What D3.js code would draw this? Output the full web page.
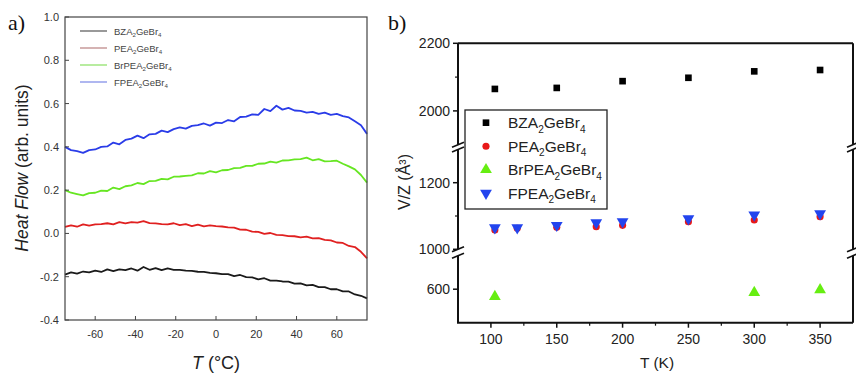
<!DOCTYPE html>
<html>
<head>
<meta charset="utf-8">
<script src="https://cdn.jsdelivr.net/npm/d3@7"></script>
<style>
	body { margin: 0; background: #fff; }
	svg { display: block; font-family: "Liberation Sans", Arial, sans-serif; }
</style>
</head>
<body>
<svg id="chart" width="856" height="374"></svg>
<script>
// Two panels: a) DSC heat flow curves, b) V/Z vs temperature with a broken y axis

// ---- data, panel a (every 3 degrees C) ----
const tempC = [-75, -72, -69, -66, -63, -60, -57, -54, -51, -48, -45, -42, -39, -36, -33, -30, -27, -24, -21, -18,
	-15, -12, -9, -6, -3, 0, 3, 6, 9, 12, 15, 18, 21, 24, 27, 30, 33, 36, 39, 42, 45, 48, 51, 54, 57, 60, 63, 66, 69, 72, 75];

const flowBZA = [-0.19, -0.18, -0.186, -0.176, -0.18, -0.172, -0.178, -0.166, -0.174, -0.166, -0.17, -0.162, -0.172, -0.155,
	-0.168, -0.16, -0.17, -0.162, -0.168, -0.168, -0.172, -0.173, -0.177, -0.178, -0.182, -0.184, -0.188, -0.188, -0.197,
	-0.192, -0.202, -0.203, -0.212, -0.207, -0.218, -0.218, -0.222, -0.223, -0.232, -0.231, -0.24, -0.238, -0.248, -0.248,
	-0.258, -0.258, -0.268, -0.268, -0.282, -0.288, -0.30];
const flowPEA = [0.03, 0.037, 0.031, 0.042, 0.036, 0.042, 0.043, 0.047, 0.042, 0.052, 0.046, 0.052, 0.05, 0.057, 0.048,
	0.046, 0.043, 0.042, 0.047, 0.038, 0.043, 0.034, 0.041, 0.033, 0.037, 0.034, 0.032, 0.028, 0.027, 0.018, 0.017, 0.008,
	0.007, -0.002, 0.002, -0.007, -0.008, -0.012, -0.013, -0.018, -0.015, -0.023, -0.022, -0.03, -0.032, -0.042, -0.044,
	-0.058, -0.063, -0.085, -0.115];
const flowBrPEA = [0.20, 0.188, 0.182, 0.176, 0.186, 0.188, 0.198, 0.196, 0.212, 0.205, 0.218, 0.222, 0.233, 0.228, 0.242,
	0.243, 0.252, 0.25, 0.262, 0.263, 0.266, 0.268, 0.278, 0.277, 0.288, 0.282, 0.292, 0.293, 0.302, 0.303, 0.312, 0.312,
	0.322, 0.323, 0.332, 0.327, 0.337, 0.338, 0.342, 0.343, 0.35, 0.338, 0.343, 0.333, 0.334, 0.336, 0.322, 0.31, 0.296,
	0.27, 0.235];
const flowFPEA = [0.40, 0.385, 0.38, 0.372, 0.385, 0.388, 0.40, 0.402, 0.42, 0.412, 0.432, 0.438, 0.452, 0.44, 0.458, 0.46,
	0.475, 0.468, 0.482, 0.49, 0.484, 0.497, 0.50, 0.508, 0.498, 0.512, 0.51, 0.524, 0.518, 0.538, 0.54, 0.55, 0.548, 0.575,
	0.565, 0.59, 0.572, 0.58, 0.568, 0.566, 0.558, 0.562, 0.552, 0.558, 0.548, 0.552, 0.542, 0.536, 0.518, 0.50, 0.46];

const namesA = ['BZA_2GeBr_4', 'PEA_2GeBr_4', 'BrPEA_2GeBr_4', 'FPEA_2GeBr_4'];
const xTicksA = [-60, -40, -20, 0, 20, 40, 60];
const yTicksA = [-0.4, -0.2, 0.0, 0.2, 0.4, 0.6, 0.8, 1.0];

// ---- data, panel b ----
const tK_BZA = [103, 150, 200, 250, 300, 350];
const vz_BZA = [2065, 2068, 2088, 2098, 2117, 2121];
const tK_PEA = [103, 120, 150, 180, 200, 250, 300, 350];
const vz_PEA = [1058, 1063, 1066, 1068, 1072, 1083, 1088, 1098];
const tK_BrPEA = [103, 300, 350];
const vz_BrPEA = [578, 590, 598];
const tK_FPEA = [103, 120, 150, 180, 200, 250, 300, 350];
const vz_FPEA = [1065, 1065, 1072, 1080, 1083, 1092, 1103, 1107];

const xTicksB = [100, 150, 200, 250, 300, 350];
const xMinorB = [125, 175, 225, 275, 325];
const yTicksB = [600, 1000, 1200, 2000, 2200];
const yMinorB = [1100, 2100];

const lineColors = ['#1a1a1a', '#e02020', '#66e622', '#2a3ce8'];
const legendColorsA = ['#555', '#b98080', '#88e060', '#7a86e6'];
const markColors = ['#000', '#e81818', '#66ee11', '#2244ee'];

const svg = d3.select('#chart');

// writes "BZA_2GeBr_4" with the digits after _ as subscripts
function formula(textSel, str, fs) {
	const parts = str.split(/(_\d)/).filter(p => p);
	let wasSub = false;
	parts.forEach(p => {
		if (p[0] === '_') {
			textSel.append('tspan').attr('dy', fs * 0.3).attr('font-size', fs * 0.65).text(p.slice(1));
			wasSub = true;
		} else {
			const t = textSel.append('tspan').text(p);
			if (wasSub) t.attr('dy', -fs * 0.3);
			wasSub = false;
		}
	});
}

// ================= panel a =================
const xA = d3.scaleLinear().domain([-75, 75]).range([65, 367]);
const yA = d3.scaleLinear().domain([-0.4, 1.0]).range([320, 17]);

const gA = svg.append('g');

const seriesA = [flowBZA, flowPEA, flowBrPEA, flowFPEA];
const lineA = d3.line().x((d, i) => xA(tempC[i])).y(d => yA(d));

seriesA.forEach((s, k) => {
	gA.append('path')
		.datum(s)
		.attr('d', lineA)
		.attr('fill', 'none')
		.attr('stroke', lineColors[k])
		.attr('stroke-width', 1.8)
		.attr('stroke-linejoin', 'round');
});

gA.append('rect')
	.attr('x', xA(-75)).attr('y', yA(1.0))
	.attr('width', xA(75) - xA(-75)).attr('height', yA(-0.4) - yA(1.0))
	.attr('fill', 'none').attr('stroke', '#444').attr('stroke-width', 1.2);

// inward ticks
gA.selectAll('.xt').data(xTicksA).join('line')
	.attr('x1', d => xA(d)).attr('x2', d => xA(d))
	.attr('y1', yA(-0.4)).attr('y2', yA(-0.4) - 4)
	.attr('stroke', '#444');
gA.selectAll('.yt').data(yTicksA).join('line')
	.attr('x1', xA(-75)).attr('x2', xA(-75) + 4)
	.attr('y1', d => yA(d)).attr('y2', d => yA(d))
	.attr('stroke', '#444');

gA.selectAll('.xl').data(xTicksA).join('text')
	.attr('x', d => xA(d)).attr('y', 338)
	.attr('text-anchor', 'middle').attr('font-size', 11).attr('fill', '#333')
	.text(d => d);
gA.selectAll('.yl').data(yTicksA).join('text')
	.attr('x', 59).attr('y', d => yA(d) + 4)
	.attr('text-anchor', 'end').attr('font-size', 11).attr('fill', '#333')
	.text(d => d.toFixed(1));

// legend a
namesA.forEach((n, k) => {
	const y = 31 + k * 17;
	gA.append('line')
		.attr('x1', 80).attr('x2', 107).attr('y1', y).attr('y2', y)
		.attr('stroke', legendColorsA[k]).attr('stroke-width', 1.2);
	const t = gA.append('text')
		.attr('x', 114).attr('y', y + 3.5)
		.attr('font-size', 9.5).attr('fill', '#444');
	formula(t, n, 9.5);
});

// axis titles a
const yTitleA = gA.append('text')
	.attr('transform', 'translate(28,168) rotate(-90)')
	.attr('text-anchor', 'middle').attr('font-size', 17.5).attr('fill', '#222');
yTitleA.append('tspan').attr('font-style', 'italic').text('Heat Flow');
yTitleA.append('tspan').text(' (arb. units)');

const xTitleA = gA.append('text')
	.attr('x', 216).attr('y', 369)
	.attr('text-anchor', 'middle').attr('font-size', 18).attr('fill', '#222');
xTitleA.append('tspan').attr('font-style', 'italic').text('T');
xTitleA.append('tspan').text(' (°C)');

svg.append('text').attr('x', 8).attr('y', 30)
	.attr('font-family', '"Liberation Serif", "Times New Roman", serif')
	.attr('font-size', 22).attr('fill', '#111').text('a)');

// ================= panel b =================
const xB = d3.scaleLinear().domain([75, 375]).range([458, 853]);
const segs = [
	d3.scaleLinear().domain([1900, 2200]).range([144.7, 43.3]),
	d3.scaleLinear().domain([1000, 1300]).range([249.3, 149.4]),
	d3.scaleLinear().domain([500, 700]).range([322.7, 255.7])
];
function yB(v) {
	if (v >= 1900) return segs[0](v);
	if (v >= 1000) return segs[1](v);
	return segs[2](v);
}

const gB = svg.append('g');
const xL = xB(75), xR = xB(375);
const frameColor = '#111';

// frame: top, bottom, and the broken left/right sides
gB.append('line').attr('x1', xL).attr('x2', xR).attr('y1', segs[0](2200)).attr('y2', segs[0](2200))
	.attr('stroke', frameColor).attr('stroke-width', 2);
gB.append('line').attr('x1', xL - 1).attr('x2', xR).attr('y1', segs[2](500)).attr('y2', segs[2](500))
	.attr('stroke', frameColor).attr('stroke-width', 2);
[xL, xR].forEach(x => {
	segs.forEach(s => {
		const [r0, r1] = s.range();
		gB.append('line').attr('x1', x).attr('x2', x).attr('y1', r0).attr('y2', r1)
			.attr('stroke', frameColor).attr('stroke-width', 2);
	});
	// break marks between segments
	[[segs[0].range()[0], segs[1].range()[1]], [segs[1].range()[0], segs[2].range()[1]]].forEach(([a, b]) => {
		[a, b].forEach(yy => {
			gB.append('line')
				.attr('x1', x - 6).attr('x2', x + 6)
				.attr('y1', yy + 2.5).attr('y2', yy - 2.5)
				.attr('stroke', frameColor).attr('stroke-width', 1.6);
		});
	});
});

// y ticks (outward)
gB.selectAll('.ybt').data(yTicksB).join('line')
	.attr('x1', xL - 5).attr('x2', xL)
	.attr('y1', d => yB(d)).attr('y2', d => yB(d))
	.attr('stroke', frameColor).attr('stroke-width', 1.5);
gB.selectAll('.ybm').data(yMinorB).join('line')
	.attr('x1', xL - 3).attr('x2', xL)
	.attr('y1', d => yB(d)).attr('y2', d => yB(d))
	.attr('stroke', frameColor).attr('stroke-width', 1.2);
gB.selectAll('.ybl').data(yTicksB).join('text')
	.attr('x', xL - 8).attr('y', d => yB(d) + 5)
	.attr('text-anchor', 'end').attr('font-size', 14).attr('fill', '#222')
	.text(d => d);

// x ticks (outward)
const yBot = segs[2](500);
gB.selectAll('.xbt').data(xTicksB).join('line')
	.attr('x1', d => xB(d)).attr('x2', d => xB(d))
	.attr('y1', yBot).attr('y2', yBot + 5)
	.attr('stroke', frameColor).attr('stroke-width', 1.5);
gB.selectAll('.xbm').data(xMinorB).join('line')
	.attr('x1', d => xB(d)).attr('x2', d => xB(d))
	.attr('y1', yBot).attr('y2', yBot + 3)
	.attr('stroke', frameColor).attr('stroke-width', 1.2);
gB.selectAll('.xbl').data(xTicksB).join('text')
	.attr('x', d => xB(d)).attr('y', 344)
	.attr('text-anchor', 'middle').attr('font-size', 14).attr('fill', '#222')
	.text(d => d);

// markers
const seriesB = [
	{t: tK_BZA, v: vz_BZA, sym: d3.symbolSquare, size: 44, rot: 0},
	{t: tK_PEA, v: vz_PEA, sym: d3.symbolCircle, size: 40, rot: 0},
	{t: tK_BrPEA, v: vz_BrPEA, sym: d3.symbolTriangle, size: 60, rot: 0},
	{t: tK_FPEA, v: vz_FPEA, sym: d3.symbolTriangle, size: 60, rot: 180}
];
seriesB.forEach((s, k) => {
	const path = d3.symbol().type(s.sym).size(s.size)();
	gB.append('g').selectAll('path').data(s.t).join('path')
		.attr('d', path)
		.attr('transform', (d, i) => `translate(${xB(d)},${yB(s.v[i])}) rotate(${s.rot})`)
		.attr('fill', markColors[k]);
});

// legend b
const legB = gB.append('g');
legB.append('rect').attr('x', 465).attr('y', 110).attr('width', 142).attr('height', 99)
	.attr('fill', '#fff').attr('stroke', '#222').attr('stroke-width', 1.3);
namesA.forEach((n, k) => {
	const y = 122.7 + k * 23.5;
	const s = seriesB[k];
	legB.append('path')
		.attr('d', d3.symbol().type(s.sym).size(s.size)())
		.attr('transform', `translate(486,${y}) rotate(${s.rot})`)
		.attr('fill', markColors[k]);
	const t = legB.append('text').attr('x', 508).attr('y', y + 5.5)
		.attr('font-size', 15.5).attr('fill', '#222');
	formula(t, n, 15.5);
});

// axis titles b
gB.append('text')
	.attr('transform', 'translate(410,182) rotate(-90)')
	.attr('text-anchor', 'middle').attr('font-size', 16).attr('fill', '#222')
	.text('V/Z (Å³)');
gB.append('text')
	.attr('x', 657).attr('y', 368)
	.attr('text-anchor', 'middle').attr('font-size', 15.5).attr('fill', '#222')
	.text('T (K)');

svg.append('text').attr('x', 388).attr('y', 30)
	.attr('font-family', '"Liberation Serif", "Times New Roman", serif')
	.attr('font-size', 22).attr('fill', '#111').text('b)');
</script>
</body>
</html>
